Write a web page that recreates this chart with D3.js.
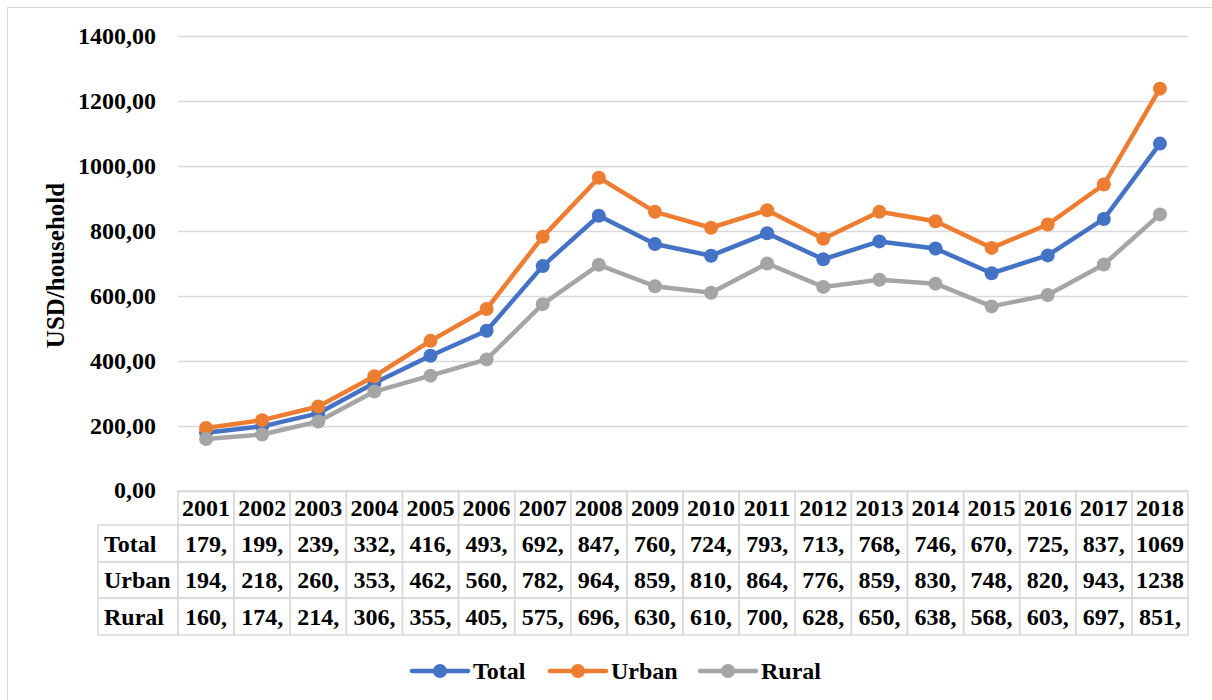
<!DOCTYPE html>
<html>
<head>
<meta charset="utf-8">
<script src="https://cdn.jsdelivr.net/npm/d3@7"></script>
<style>
  body { margin: 0; background: #fff; }
  text { font-family: "Liberation Serif", "Times New Roman", serif; font-weight: bold; fill: #000; }
</style>
</head>
<body>
<div id="chart"></div>
<script>
// data
const years = ['2001', '2002', '2003', '2004', '2005', '2006', '2007', '2008', '2009',
  '2010', '2011', '2012', '2013', '2014', '2015', '2016', '2017', '2018'];
const total = [179, 199, 239, 332, 416, 493, 692, 847, 760, 724, 793, 713, 768, 746, 670, 725, 837, 1069];
const urban = [194, 218, 260, 353, 462, 560, 782, 964, 859, 810, 864, 776, 859, 830, 748, 820, 943, 1238];
const rural = [160, 174, 214, 306, 355, 405, 575, 696, 630, 610, 700, 628, 650, 638, 568, 603, 697, 851];
const seriesNames = ['Total', 'Urban', 'Rural'];
const seriesColors = ['#4472C4', '#ED7D31', '#A5A5A5'];
const yTicks = [0, 200, 400, 600, 800, 1000, 1200, 1400];

const series = [total, urban, rural].map((values, i) => ({
  name: seriesNames[i],
  color: seriesColors[i],
  values
}));

const width = 1212;
const height = 700;
const plot = {left: 178, right: 1188, top: 36, bottom: 491};
const rowH = [34, 37, 36, 37];
const fontSize = '24px';

const svg = d3.select('#chart').append('svg')
    .attr('width', width)
    .attr('height', height);

// outer frame
svg.append('rect')
    .attr('x', 7.5).attr('y', 7.5)
    .attr('width', width + 10).attr('height', height + 10)
    .attr('fill', 'none')
    .attr('stroke', '#d9d9d9');

const x = d3.scaleBand()
    .domain(years)
    .range([plot.left, plot.right]);

const y = d3.scaleLinear()
    .domain([0, 1400])
    .range([plot.bottom, plot.top]);

// gridlines + labels
const yAxis = d3.axisLeft(y)
    .tickValues(yTicks)
    .tickSize(-(plot.right - plot.left))
    .tickPadding(22)
    .tickFormat(d => d3.format('.2f')(d).replace('.', ','));

svg.append('g')
    .attr('transform', `translate(${plot.left},0)`)
    .call(yAxis)
    .call(g => g.select('.domain').remove())
    .call(g => g.selectAll('.tick line').attr('stroke', '#d9d9d9').attr('stroke-width', 1.3))
    .call(g => g.selectAll('.tick text')
        .style('font-size', fontSize)
        .attr('fill', '#000')
        .style('font-family', '"Liberation Serif", serif'))
    .call(g => g.selectAll('.tick').filter(d => d === 0).select('text').attr('dy', '0.25em'));

svg.append('text')
    .attr('transform', `translate(64,${(plot.top + plot.bottom) / 2 + 2}) rotate(-90)`)
    .attr('text-anchor', 'middle')
    .style('font-size', '25px')
    .text('USD/household');

// lines
const line = d3.line()
    .x((d, i) => x(years[i]) + x.bandwidth() / 2)
    .y(d => y(d));

const sg = svg.append('g').selectAll('g')
  .data(series)
  .join('g');

sg.append('path')
    .attr('d', d => line(d.values))
    .attr('fill', 'none')
    .attr('stroke', d => d.color)
    .attr('stroke-width', 4.5)
    .attr('stroke-linejoin', 'round');

sg.selectAll('circle')
  .data(d => d.values.map(v => ({v, color: d.color})))
  .join('circle')
    .attr('cx', (d, i) => x(years[i]) + x.bandwidth() / 2)
    .attr('cy', d => y(d.v))
    .attr('r', 7)
    .attr('fill', d => d.color);

// data table
const table = svg.append('g');
const labelLeft = 98;
const rowTops = [plot.bottom];
rowH.forEach(h => rowTops.push(rowTops[rowTops.length - 1] + h));
const gridCol = '#d9d9d9';

// header row cells
table.selectAll('.hdr')
  .data(years)
  .join('rect')
    .attr('x', d => x(d))
    .attr('y', rowTops[0])
    .attr('width', x.bandwidth())
    .attr('height', rowH[0])
    .attr('fill', 'none')
    .attr('stroke', gridCol)
    .attr('stroke-width', 1.5);

table.selectAll('.hdrText')
  .data(years)
  .join('text')
    .attr('x', d => x(d) + x.bandwidth() / 2)
    .attr('y', rowTops[0] + rowH[0] / 2)
    .attr('dy', '0.35em')
    .attr('text-anchor', 'middle')
    .style('font-size', fontSize)
    .text(d => d);

series.forEach((s, r) => {
  const top = rowTops[r + 1];
  const h = rowH[r + 1];
  table.append('rect')
      .attr('x', labelLeft)
      .attr('y', top)
      .attr('width', plot.left - labelLeft)
      .attr('height', h)
      .attr('fill', 'none')
      .attr('stroke', gridCol)
      .attr('stroke-width', 1.5);
  table.append('text')
      .attr('x', labelLeft + 6)
      .attr('y', top + h / 2)
      .attr('dy', '0.35em')
      .style('font-size', fontSize)
      .text(s.name);
  table.selectAll(null)
    .data(s.values)
    .join('rect')
      .attr('x', (d, i) => x(years[i]))
      .attr('y', top)
      .attr('width', x.bandwidth())
      .attr('height', h)
      .attr('fill', 'none')
      .attr('stroke', gridCol)
      .attr('stroke-width', 1.5);
  table.selectAll(null)
    .data(s.values)
    .join('text')
      .attr('x', (d, i) => x(years[i]) + x.bandwidth() / 2)
      .attr('y', top + h / 2)
      .attr('dy', '0.35em')
      .attr('text-anchor', 'middle')
      .style('font-size', fontSize)
      .text(d => d >= 1000 ? String(d) : d + ',');
});

// legend
const legendX = [412, 550, 700];
const legend = svg.append('g')
    .attr('transform', 'translate(0,671)');

const li = legend.selectAll('g')
  .data(series)
  .join('g')
    .attr('transform', (d, i) => `translate(${legendX[i]},0)`);

li.append('line')
    .attr('x1', 0).attr('x2', 56)
    .attr('stroke', d => d.color)
    .attr('stroke-width', 4.5)
    .attr('stroke-linecap', 'round');

li.append('circle')
    .attr('cx', 28)
    .attr('r', 7)
    .attr('fill', d => d.color);

li.append('text')
    .attr('x', 61)
    .attr('dy', '0.35em')
    .style('font-size', fontSize)
    .text(d => d.name);
</script>
</body>
</html>
